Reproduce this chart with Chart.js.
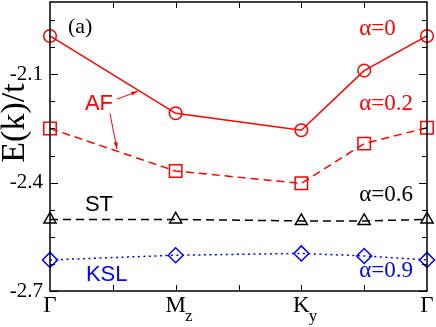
<!DOCTYPE html>
<html>
<head>
<meta charset="utf-8">
<script src="https://cdn.jsdelivr.net/npm/chart.js@4"></script>
<style>
  html, body { margin: 0; padding: 0; background: #fff; }
  #wrap { width: 436px; height: 327px; }
</style>
</head>
<body>
<div id="wrap"><canvas id="myChart"></canvas></div>
<script>
// path through the zone: Γ - M_z - K_y - (midpoint) - Γ
var kPath = [0, 1, 2, 2.5, 3];
var kTicks = [0, 1, 2, 3];
var kNames = ["Γ", "M", "K", "Γ"];
var kSubs = ["", "z", "y", ""];

var eAlpha0 = [-1.994, -2.208, -2.255, -2.090, -1.994];
var eAlpha02 = [-2.250, -2.368, -2.402, -2.292, -2.248];
var eAlpha06 = [-2.502, -2.502, -2.506, -2.506, -2.502];
var eAlpha09 = [-2.614, -2.601, -2.596, -2.603, -2.614];

var yMajor = [-2.7, -2.4, -2.1];

var serif = "'Liberation Serif', 'Times New Roman', serif";
var sans = "'Liberation Sans', Arial, sans-serif";

function pts(vals) {
  return vals.map((v, i) => ({ x: kPath[i], y: v }));
}

// labels on the plot, in data units
var notes = [
  { text: "(a)", x: 0.143, y: -1.985, color: "#000", font: "22px " + serif },
  { text: "α=0", x: 2.46, y: -1.99, color: "#ff0000", font: "23px " + serif },
  { text: "α=0.2", x: 2.46, y: -2.2, color: "#ff0000", font: "23px " + serif },
  { text: "α=0.6", x: 2.46, y: -2.45, color: "#000", font: "23px " + serif },
  { text: "α=0.9", x: 2.46, y: -2.66, color: "#0000ff", font: "23px " + serif },
  { text: "AF", x: 0.278, y: -2.2, color: "#ff0000", font: "22px " + sans },
  { text: "ST", x: 0.278, y: -2.478, color: "#000", font: "22px " + sans },
  { text: "KSL", x: 0.286, y: -2.672, color: "#0000ff", font: "22px " + sans }
];
var arrows = [
  { x0: 0.533, y0: -2.169, x1: 0.70, y1: -2.147 },
  { x0: 0.477, y0: -2.208, x1: 0.533, y1: -2.307 }
];

const framePlugin = {
  id: "frame",
  afterDraw(chart) {
    const ctx = chart.ctx;
    const a = chart.chartArea;
    const xs = chart.scales.x, ys = chart.scales.y;
    ctx.save();
    ctx.strokeStyle = "#000";
    ctx.lineWidth = 1.5;
    ctx.strokeRect(a.left, a.top, a.right - a.left, a.bottom - a.top);

    // y ticks, both sides, inward
    ctx.lineWidth = 1;
    for (let v = -2.7; v < -1.9; v += 0.075) {
      const py = Math.round(ys.getPixelForValue(v)) + 0.5;
      const major = yMajor.some(m => Math.abs(m - v) < 1e-6);
      const len = major ? 8 : 5;
      ctx.beginPath();
      ctx.moveTo(a.left, py); ctx.lineTo(a.left + len, py);
      ctx.moveTo(a.right, py); ctx.lineTo(a.right - len, py);
      ctx.stroke();
    }
    // x ticks, both sides
    for (let v = 0.5; v < 3; v += 0.5) {
      const px = Math.round(xs.getPixelForValue(v)) + 0.5;
      ctx.beginPath();
      ctx.moveTo(px, a.bottom); ctx.lineTo(px, a.bottom - 6);
      ctx.moveTo(px, a.top); ctx.lineTo(px, a.top + 6);
      ctx.stroke();
    }

    // x labels with subscripts
    ctx.fillStyle = "#000";
    kTicks.forEach((t, i) => {
      const px = xs.getPixelForValue(t);
      ctx.font = "23px " + serif;
      ctx.textAlign = "center";
      ctx.textBaseline = "alphabetic";
      const w = ctx.measureText(kNames[i]).width;
      ctx.fillText(kNames[i], px, a.bottom + 21);
      if (kSubs[i]) {
        ctx.font = "17px " + serif;
        ctx.textAlign = "left";
        ctx.fillText(kSubs[i], px + w / 2 - 1, a.bottom + 30);
      }
    });

    // y title
    ctx.save();
    ctx.translate(24, ys.getPixelForValue(-2.235));
    ctx.rotate(-Math.PI / 2);
    ctx.font = "34px " + serif;
    ctx.textAlign = "center";
    ctx.textBaseline = "alphabetic";
    ctx.fillText("E(k)/t", 0, 0);
    ctx.restore();

    // annotations
    notes.forEach(n => {
      ctx.font = n.font;
      ctx.fillStyle = n.color;
      ctx.textAlign = "left";
      ctx.textBaseline = "alphabetic";
      ctx.fillText(n.text, xs.getPixelForValue(n.x), ys.getPixelForValue(n.y));
    });
    ctx.strokeStyle = "#ff0000";
    ctx.fillStyle = "#ff0000";
    ctx.lineWidth = 1;
    arrows.forEach(ar => {
      const x0 = xs.getPixelForValue(ar.x0), y0 = ys.getPixelForValue(ar.y0);
      const x1 = xs.getPixelForValue(ar.x1), y1 = ys.getPixelForValue(ar.y1);
      const ang = Math.atan2(y1 - y0, x1 - x0);
      ctx.beginPath();
      ctx.moveTo(x0, y0); ctx.lineTo(x1, y1);
      ctx.stroke();
      ctx.beginPath();
      ctx.moveTo(x1, y1);
      ctx.lineTo(x1 - 7 * Math.cos(ang - 0.3), y1 - 7 * Math.sin(ang - 0.3));
      ctx.lineTo(x1 - 7 * Math.cos(ang + 0.3), y1 - 7 * Math.sin(ang + 0.3));
      ctx.closePath();
      ctx.fill();
    });
    ctx.restore();
  }
};

function series(vals, color, style, radius, dash) {
  return {
    data: pts(vals),
    borderColor: color,
    backgroundColor: "rgba(0,0,0,0)",
    borderWidth: 1.5,
    borderDash: dash,
    pointStyle: style,
    pointRadius: radius,
    pointBorderColor: color,
    pointBorderWidth: 1.5,
    pointBackgroundColor: "rgba(0,0,0,0)",
    tension: 0,
    clip: false
  };
}

new Chart("myChart", {
  type: "line",
  data: {
    datasets: [
      series(eAlpha0, "#ff0000", "circle", 6.3, []),
      series(eAlpha02, "#ff0000", "rect", 8.8, [8, 5]),
      series(eAlpha06, "#000000", "triangle", 7, [8, 5]),
      series(eAlpha09, "#0000ff", "rectRot", 7.5, [2, 3.5])
    ]
  },
  options: {
    responsive: true,
    maintainAspectRatio: false,
    animation: false,
    events: [],
    layout: { autoPadding: false, padding: { top: 2, right: 9, left: 0, bottom: 0 } },
    plugins: { legend: { display: false }, tooltip: { enabled: false } },
    scales: {
      x: {
        type: "linear",
        min: 0,
        max: 3,
        grid: { display: false },
        border: { display: false },
        ticks: { display: false },
        afterFit: s => { s.height = 36; s.paddingLeft = 0; s.paddingRight = 0; }
      },
      y: {
        min: -2.7,
        max: -1.9,
        grid: { display: false, drawTicks: false },
        border: { display: false },
        afterBuildTicks: s => { s.ticks = yMajor.map(v => ({ value: v })); },
        ticks: {
          color: "#000",
          padding: 7,
          font: { family: serif, size: 21 },
          callback: v => v.toFixed(1)
        },
        afterFit: s => { s.width = 50; s.paddingTop = 0; s.paddingBottom = 0; }
      }
    }
  },
  plugins: [framePlugin]
});
</script>
</body>
</html>
